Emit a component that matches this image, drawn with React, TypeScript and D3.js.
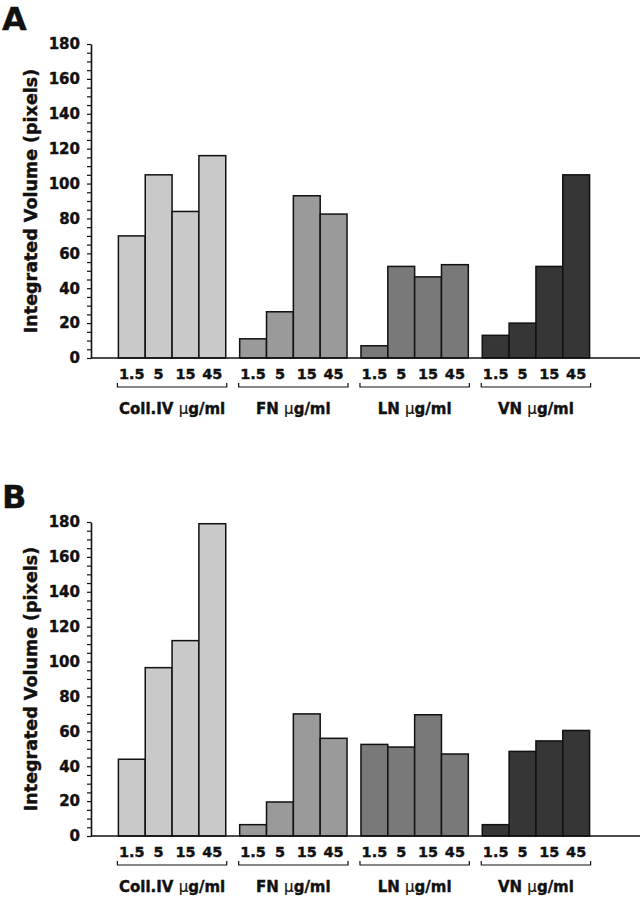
import React, { useEffect, useRef } from "react";
import * as d3 from "d3";

// substrate groups and coating concentrations
const groups = ["Coll.IV", "FN", "LN", "VN"];
const concentrations = ["1.5", "5", "15", "45"];
const groupFills = ["#c9c9c9", "#9a9a9a", "#797979", "#363636"];
const yTicks = [0, 20, 40, 60, 80, 100, 120, 140, 160, 180];

// panel A values (integrated volume, pixels)
const collA = [70, 105, 84, 116];
const fnA = [11, 26.5, 93, 82.5];
const lnA = [7, 52.5, 46.5, 53.5];
const vnA = [13, 20, 52.5, 105];

// panel B values
const collB = [44, 96.5, 112, 179];
const fnB = [6.5, 19.5, 70, 56];
const lnB = [52.5, 51, 69.5, 47];
const vnB = [6.5, 48.5, 54.5, 60.5];

const FONT = "'DejaVu Sans', Arial, sans-serif";
const INK = "#111";

interface PanelProps {
  letter: string;
  series: number[][];
  offsetY: number;
}

const Panel = ({ letter, series, offsetY }: PanelProps) => {
  const margin = { top: 44, left: 91, right: 640, bottom: 358 };
  const axisRef = useRef<SVGGElement>(null);

  // scales
  const y = d3.scaleLinear().domain([0, 180]).range([margin.bottom, margin.top]);
  const xGroup = d3
    .scaleBand()
    .domain(groups)
    .range([111.4, 596.6])
    .paddingInner(0.115)
    .paddingOuter(0.0577);
  const xConc = d3
    .scaleBand()
    .domain(concentrations)
    .range([0, xGroup.bandwidth()])
    .padding(0);

  useEffect(() => {
    const axis = d3
      .axisLeft(y)
      .tickValues(d3.range(0, 181, 5))
      .tickSize(4)
      .tickSizeOuter(0)
      .tickPadding(7)
      .tickFormat((d: any) => (yTicks.includes(+d) ? `${d}` : ""));
    const g = d3.select(axisRef.current).call(axis as any);
    g.attr("font-family", FONT).attr("font-size", 15).attr("font-weight", "bold");
    g.select(".domain").attr("stroke", INK).attr("stroke-width", 1.6);
    g.selectAll(".tick line").attr("stroke", INK).attr("stroke-width", 1.2);
    g.selectAll(".tick text")
      .attr("fill", INK)
      .attr("stroke", INK)
      .attr("stroke-width", 0.4);
  }, []);

  const cy = (margin.top + margin.bottom) / 2;

  return (
    <g transform={`translate(0, ${offsetY})`}>
      <text x={2} y={30} fontFamily={FONT} fontWeight="bold" fontSize={32} fill={INK} stroke={INK} strokeWidth={0.3}>
        {letter}
      </text>
      <text
        transform={`translate(37, ${cy}) rotate(-90)`}
        textAnchor="middle"
        fontFamily={FONT}
        fontWeight="bold"
        fontSize={17.5}
        fill={INK}
        stroke={INK}
        strokeWidth={0.4}
      >
        Integrated Volume (pixels)
      </text>

      {groups.map((grp, gi) => {
        const gx = xGroup(grp) as number;
        const bw = xGroup.bandwidth();
        return (
          <g key={grp}>
            {series[gi].map((v, ci) => (
              <rect
                key={ci}
                x={gx + (xConc(concentrations[ci]) as number)}
                y={y(v)}
                width={xConc.bandwidth()}
                height={y(0) - y(v)}
                fill={groupFills[gi]}
                stroke={INK}
                strokeWidth={1.5}
              />
            ))}
            {concentrations.map((c) => (
              <text
                key={c}
                x={gx + (xConc(c) as number) + xConc.bandwidth() / 2}
                y={y(0) + 16}
                dy="0.35em"
                textAnchor="middle"
                fontFamily={FONT}
                fontWeight="bold"
                fontSize={14.5}
                fill={INK}
                stroke={INK}
                strokeWidth={0.4}
              >
                {c}
              </text>
            ))}
            <path
              d={`M${gx - 1},${y(0) + 25}V${y(0) + 29}H${gx + bw + 1}V${y(0) + 25}`}
              fill="none"
              stroke={INK}
              strokeWidth={1.2}
            />
            <text
              x={gx + bw / 2}
              y={y(0) + 56}
              textAnchor="middle"
              fontFamily={FONT}
              fontWeight="bold"
              fontSize={15}
              fill={INK}
              stroke={INK}
              strokeWidth={0.4}
            >
              {grp}{" "}
              <tspan fontWeight="normal" strokeWidth={0.2}>μ</tspan>
              g/ml
            </text>
          </g>
        );
      })}

      <line
        x1={margin.left}
        x2={margin.right}
        y1={y(0)}
        y2={y(0)}
        stroke={INK}
        strokeWidth={1.6}
      />
      <g ref={axisRef} transform={`translate(${margin.left}, 0)`} />
    </g>
  );
};

const App = () => {
  return (
    <svg
      width={641}
      height={900}
      style={{ position: "absolute", left: 0, top: 0, background: "#fff" }}
    >
      <rect width={641} height={900} fill="#fff" />
      <Panel letter="A" series={[collA, fnA, lnA, vnA]} offsetY={0} />
      <Panel letter="B" series={[collB, fnB, lnB, vnB]} offsetY={478} />
    </svg>
  );
};

export default App;
